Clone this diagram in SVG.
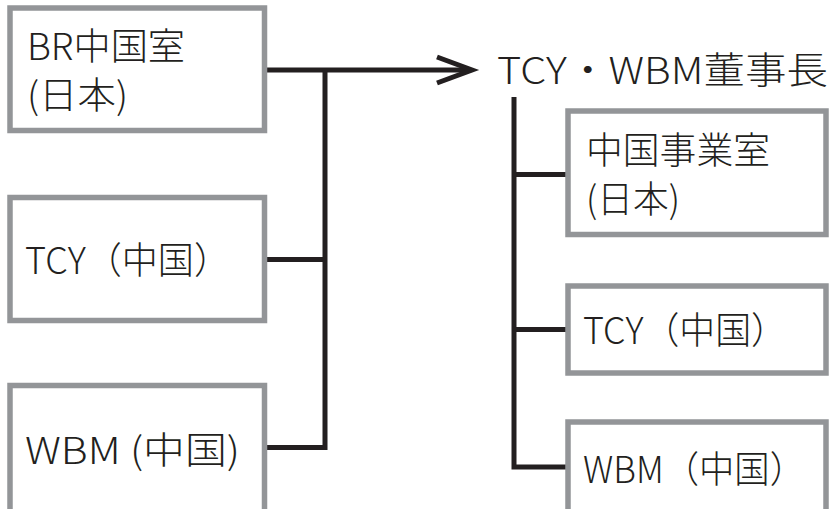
<svg xmlns="http://www.w3.org/2000/svg" width="833" height="509" viewBox="0 0 833 509">
<defs>
<style>
.box{fill:#fff;stroke:#939598;stroke-width:5.5}
.ln{fill:none;stroke:#231f20;stroke-width:5}
.t{font-family:"Noto Sans CJK JP","Noto Sans",sans-serif;font-size:37px;fill:#231f20;font-weight:300}
</style>
</defs>
<rect width="833" height="509" fill="#fff"/>
<g id="connectors">
<path class="ln" d="M266 70H471"/>
<path class="ln" d="M437 57L472 70L437 83"/>
<path class="ln" d="M325 70V447.5H266"/>
<path class="ln" d="M266 259.5H325"/>
<path class="ln" d="M514 97V467H568"/>
<path class="ln" d="M514 174.5H568"/>
<path class="ln" d="M514 329.5H568"/>
</g>
<g id="br">
<rect class="box" x="10" y="8" width="254.5" height="122.5"/>
<text class="t" x="27" y="60" textLength="158" lengthAdjust="spacingAndGlyphs">BR中国室</text>
<text class="t" x="27" y="109" textLength="101" lengthAdjust="spacingAndGlyphs">(日本)</text>
</g>
<g id="tcy-left">
<rect class="box" x="10" y="197.5" width="254.5" height="123"/>
<text class="t" x="25" y="274" textLength="205" lengthAdjust="spacingAndGlyphs">TCY（中国）</text>
</g>
<g id="wbm-left">
<rect class="box" x="10" y="385.5" width="254.5" height="140"/>
<text class="t" x="25" y="464" textLength="215" lengthAdjust="spacingAndGlyphs">WBM (中国)</text>
</g>
<g id="chairman">
<text class="t" x="497" y="84" textLength="331" lengthAdjust="spacingAndGlyphs">TCY・WBM董事長</text>
</g>
<g id="china-office">
<rect class="box" x="568" y="111" width="258" height="123.5"/>
<text class="t" x="586" y="164" textLength="184" lengthAdjust="spacingAndGlyphs">中国事業室</text>
<text class="t" x="586" y="213" textLength="94" lengthAdjust="spacingAndGlyphs">(日本)</text>
</g>
<g id="tcy-right">
<rect class="box" x="568" y="286" width="258" height="87"/>
<text class="t" x="583" y="344" textLength="204" lengthAdjust="spacingAndGlyphs">TCY（中国）</text>
</g>
<g id="wbm-right">
<rect class="box" x="568" y="422" width="258" height="110"/>
<text class="t" x="583" y="483" textLength="222" lengthAdjust="spacingAndGlyphs">WBM（中国）</text>
</g>
</svg>
